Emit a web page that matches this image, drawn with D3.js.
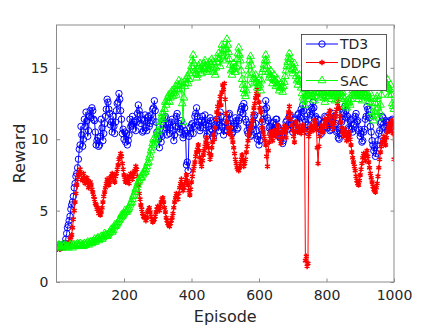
<!DOCTYPE html>
<html>
<head>
<meta charset="utf-8">
<script src="https://cdn.jsdelivr.net/npm/d3@7/dist/d3.min.js"></script>
<style>
  html, body { margin: 0; padding: 0; background: #fff; }
  svg { display: block; font-family: "DejaVu Sans", sans-serif; }
</style>
</head>
<body>
<svg id="chart" width="436" height="327"></svg>
<script>
const seriesNames = ["TD3", "DDPG", "SAC"];
const seriesColors = ["#0000ff", "#ff0000", "#00ff00"];
const episodeStep = 2.5;
const xTicks = [200, 400, 600, 800, 1000];
const yTicks = [0, 5, 10, 15];

const td3 = [
  2.4,2.5, 2.6,2.4, 2.4,2.5, 2.6,2.5, 2.5,2.7, 3.0,3.4, 3.8,4.0, 4.3,4.6, 5.1,5.4, 5.6,6.0,
  6.6,6.9, 7.4,7.6, 8.0,8.6, 9.3,9.6, 10.9,10.3, 9.5,10.0, 11.4,10.9, 11.9,11.3, 10.2,10.6, 11.6,12.0,
  11.5,12.2, 12.0,11.4, 11.3,10.5, 9.6,9.9, 10.1,9.5, 9.6,10.2, 11.4,10.8, 9.9,10.4, 11.1,11.6, 12.1,12.8,
  12.6,12.1, 11.8,11.0, 11.2,10.5, 11.6,10.9, 10.4,11.2, 12.0,12.5, 12.6,13.2, 12.8,12.0, 11.4,10.4, 10.7,10.0,
  10.5,9.8, 10.4,9.6, 9.9,10.3, 11.4,10.9, 11.0,11.6, 10.7,11.2, 11.3,10.6, 11.2,11.8, 12.4,12.0, 11.7,11.1,
  11.4,10.5, 10.6,11.3, 11.7,10.8, 10.6,11.5, 11.6,10.9, 11.1,11.7, 11.3,12.1, 12.2,12.7, 12.0,11.2, 10.5,10.2,
  10.0,9.4, 10.3,9.8, 10.2,10.7, 11.0,11.5, 11.6,10.8, 10.3,11.0, 11.1,10.4, 10.8,11.2, 11.4,10.6, 9.9,10.3,
  10.9,11.6, 11.8,10.9, 11.1,10.5, 10.7,11.3, 10.9,10.1, 10.3,10.6, 10.4,8.2, 8.4,7.8, 10.2,10.8, 10.4,11.0,
  11.1,10.4, 10.9,11.6, 11.8,12.2, 11.6,11.0, 11.2,10.6, 10.8,11.3, 11.6,10.8, 11.2,11.7, 11.0,10.2, 10.4,10.9,
  11.1,11.5, 11.3,10.7, 10.6,10.1, 10.4,10.8, 10.9,11.4, 11.2,10.6, 11.0,11.9, 11.6,10.9, 10.8,10.3, 10.6,11.2,
  11.4,10.6, 11.1,11.7, 11.8,11.1, 10.9,10.4, 10.5,10.9, 11.1,11.5, 11.3,10.7, 10.8,11.3, 11.5,11.9, 12.1,12.3,
  11.8,12.5, 12.2,11.4, 11.2,10.6, 10.4,11.0, 10.8,10.2, 10.3,10.7, 11.0,11.6, 11.7,11.1, 10.6,10.0, 10.2,9.6,
  9.9,10.3, 10.7,11.2, 11.4,11.8, 12.1,12.7, 12.2,11.5, 11.3,10.8, 10.9,10.4, 10.6,11.1, 11.2,10.6, 10.8,11.4,
  11.4,10.9, 10.8,10.2, 10.1,10.6, 10.2,9.7, 9.9,10.4, 10.7,11.2, 11.3,10.7, 11.0,11.6, 11.7,11.0, 11.1,10.5,
  10.8,11.3, 11.4,10.8, 11.1,11.7, 11.8,11.2, 11.5,12.1, 11.9,12.4, 12.0,11.4, 11.2,10.6, 10.5,11.0, 11.4,11.9,
  11.7,12.2, 12.1,12.6, 12.2,11.5, 11.6,10.9, 10.8,11.4, 11.3,10.7, 10.8,10.4, 10.6,11.1, 11.2,11.6, 11.5,10.9,
  10.8,11.3, 11.1,10.6, 10.7,11.2, 11.3,11.8, 11.6,11.0, 11.1,10.5, 10.6,10.1, 10.0,10.4, 10.7,11.2, 11.4,11.9,
  11.8,12.3, 12.0,11.5, 11.6,10.8, 10.7,11.3, 11.4,10.7, 10.5,11.0, 11.1,11.6, 11.8,11.2, 11.3,10.6, 10.7,10.2,
  10.4,9.8, 9.9,10.5, 10.7,11.4, 11.6,12.3, 12.1,11.7, 11.5,10.9, 10.5,9.9, 9.6,9.2, 9.4,8.8, 9.0,9.6,
  9.9,10.4, 10.6,11.1, 11.2,11.6, 11.5,10.8, 10.9,11.3, 11.2,10.6, 10.7,11.2, 11.3,10.8, 10.9,11.4, 11.3,10.7
];

const ddpg = [
  2.3,2.4, 2.4,2.3, 2.5,2.4, 2.4,2.5, 2.5,2.4, 2.5,2.6, 2.6,2.7, 2.8,3.0, 3.1,3.3, 3.8,4.4,
  5.0,5.6, 6.2,6.8, 7.2,7.5, 7.7,7.9, 7.6,7.2, 7.1,7.6, 7.3,6.9, 7.0,7.3, 7.1,6.6, 6.8,7.0,
  6.8,6.5, 6.3,6.0, 5.8,5.5, 5.4,5.1, 5.2,4.8, 5.0,4.7, 4.9,5.2, 5.6,6.0, 6.3,6.6, 6.9,7.2,
  7.1,6.8, 7.0,7.3, 7.4,7.6, 7.5,7.1, 7.0,7.4, 7.6,7.9, 8.2,8.6, 8.7,9.0, 8.8,8.3, 7.9,7.5,
  7.2,7.0, 7.1,7.4, 7.2,6.9, 7.3,7.6, 7.5,7.2, 7.4,7.7, 7.8,8.1, 7.9,7.4, 6.8,6.2, 5.8,5.4,
  5.1,4.8, 4.6,4.5, 4.6,4.3, 4.5,4.9, 5.0,5.2, 4.9,4.6, 4.4,4.2, 4.3,4.4, 4.6,4.9, 5.1,5.3,
  5.2,5.0, 5.3,5.6, 5.8,5.9, 5.6,5.2, 4.9,4.5, 4.3,4.1, 4.0,3.9, 4.1,4.3, 4.5,4.8, 5.2,5.6,
  5.9,6.2, 6.0,5.8, 6.2,6.6, 6.9,7.2, 6.8,6.4, 6.6,6.9, 7.2,7.5, 7.1,6.8, 6.4,6.1, 6.5,7.0,
  7.4,7.8, 8.1,8.4, 8.8,9.1, 9.3,9.6, 9.2,8.7, 8.4,8.1, 8.5,8.9, 9.2,9.5, 9.8,10.1, 9.7,9.4,
  9.0,8.6, 8.9,9.4, 9.8,10.3, 10.0,10.8, 11.4,11.9, 12.3,11.8, 12.6,13.0, 12.4,13.3, 13.8,13.5, 13.9,12.8,
  11.8,11.2, 10.8,10.4, 10.6,10.8, 10.4,10.1, 9.8,9.4, 9.0,8.6, 8.3,8.0, 7.9,7.8, 8.0,8.3, 8.6,8.9,
  8.5,8.1, 8.3,8.6, 9.1,9.5, 9.9,10.3, 10.6,10.8, 11.0,11.3, 11.8,12.2, 12.5,12.9, 13.2,13.5, 13.1,12.6,
  12.2,11.9, 11.3,10.8, 10.5,10.2, 9.9,9.6, 8.8,8.1, 9.2,9.8, 10.2,10.5, 10.2,9.9, 10.3,10.6, 10.4,10.2,
  10.6,11.0, 10.7,10.4, 10.0,9.7, 10.1,10.5, 10.7,10.9, 10.5,10.1, 10.8,11.5, 11.9,12.3, 11.8,11.4, 11.0,10.6,
  10.2,9.8, 10.5,11.2, 10.9,10.5, 10.7,10.9, 10.6,10.4, 10.7,11.0, 10.8,10.6, 1.5,1.8, 1.1,1.3, 10.2,10.5,
  10.8,11.0, 10.8,10.6, 10.9,11.3, 11.1,10.8, 9.4,8.3, 9.5,10.2, 10.6,11.0, 10.7,10.5, 10.9,11.4, 11.2,10.9,
  11.3,11.6, 11.8,12.0, 11.6,11.2, 10.9,10.7, 11.1,11.5, 11.8,12.1, 12.5,12.8, 12.2,11.6, 11.2,10.8, 10.5,10.2,
  10.4,10.7, 10.3,9.9, 10.2,10.5, 10.3,10.0, 9.6,9.1, 8.7,8.4, 8.1,7.8, 7.4,7.1, 6.9,6.8, 7.1,7.5,
  7.9,8.3, 8.7,9.0, 8.8,8.5, 8.9,9.2, 8.8,8.4, 8.0,7.6, 7.3,7.0, 6.7,6.5, 6.4,6.3, 6.6,6.9,
  7.4,8.0, 8.6,9.1, 9.5,9.8, 10.0,10.2, 9.9,9.6, 10.1,10.5, 10.8,11.1, 10.9,10.6, 11.0,11.3, 10.4,8.6
];

const sac = [
  2.4,2.5, 2.6,2.5, 2.5,2.4, 2.6,2.5, 2.5,2.6, 2.4,2.5, 2.5,2.4, 2.5,2.6, 2.6,2.5, 2.4,2.6,
  2.6,2.5, 2.5,2.6, 2.7,2.5, 2.6,2.7, 2.5,2.6, 2.6,2.5, 2.7,2.6, 2.6,2.7, 2.8,2.6, 2.7,2.8,
  2.8,2.7, 2.8,2.9, 3.0,2.8, 2.9,3.0, 3.1,2.9, 3.0,3.1, 3.2,3.0, 3.1,3.2, 3.4,3.3, 3.3,3.2,
  3.3,3.4, 3.5,3.6, 3.7,3.5, 3.6,3.8, 4.0,3.9, 4.0,4.1, 4.2,4.3, 4.4,4.5, 4.7,4.6, 4.7,4.8,
  5.0,4.9, 4.9,5.0, 5.1,5.2, 5.4,5.5, 5.6,5.8, 6.0,6.1, 6.3,6.5, 6.6,6.8, 7.0,7.1, 7.3,7.3,
  7.3,7.5, 7.6,7.8, 7.7,7.9, 8.1,8.3, 8.4,8.7, 8.9,9.2, 9.4,9.7, 10.0,9.6, 9.9,10.3, 10.1,10.5,
  10.6,10.9, 11.2,11.5, 11.8,11.4, 11.8,12.1, 12.6,12.4, 12.6,12.9, 13.1,12.6, 12.9,13.2, 13.4,13.0, 13.2,13.5,
  13.7,13.1, 13.5,13.8, 14.1,13.4, 13.8,14.0, 12.5,11.2, 12.9,13.7, 13.9,14.2, 14.4,13.9, 14.2,14.6, 14.8,15.1,
  15.5,15.9, 15.3,14.8, 14.6,14.3, 14.5,14.9, 15.1,15.3, 14.9,14.6, 14.8,15.0, 15.3,15.5, 15.1,14.7, 14.9,15.2,
  15.4,14.8, 15.2,15.6, 15.4,15.0, 14.7,14.5, 15.0,15.4, 15.7,16.0, 15.6,15.1, 15.9,16.6, 16.4,16.2, 15.8,15.5,
  16.3,17.0, 16.6,16.1, 15.6,15.2, 14.8,14.5, 14.9,15.3, 15.0,14.7, 15.1,15.6, 16.0,16.4, 15.9,15.5, 14.8,14.2,
  13.8,13.5, 13.2,13.0, 13.4,13.8, 14.5,15.1, 15.5,15.8, 15.2,14.6, 14.2,13.9, 14.2,14.5, 14.0,13.6, 13.9,14.2,
  13.8,13.4, 14.1,14.7, 14.9,15.2, 15.5,15.9, 15.5,15.1, 14.7,14.3, 14.5,14.8, 14.3,13.9, 14.2,14.5, 14.1,13.7,
  13.9,14.2, 13.8,13.4, 13.6,13.9, 13.6,13.3, 13.7,14.0, 14.4,14.8, 15.1,15.4, 15.7,16.0, 15.6,15.2, 14.9,14.6,
  15.0,15.3, 14.8,14.4, 14.1,13.8, 14.2,14.5, 14.0,13.6, 13.2,12.9, 12.7,12.4, 13.0,13.5, 13.1,12.8, 13.1,13.4,
  13.2,13.0, 13.4,13.7, 13.2,12.7, 13.0,13.3, 13.6,13.8, 13.3,12.9, 13.2,13.5, 13.3,13.1, 12.9,12.6, 13.0,13.4,
  13.2,13.0, 13.3,13.6, 13.2,12.8, 13.0,13.3, 13.0,12.7, 13.1,13.5, 13.3,13.2, 13.0,12.9, 13.2,13.6, 13.3,13.0,
  12.8,12.5, 12.3,12.2, 12.5,12.8, 12.6,12.4, 12.8,13.1, 13.4,13.7, 13.3,13.0, 13.2,13.4, 13.1,12.8, 13.0,13.2,
  13.0,12.7, 13.1,13.5, 13.2,13.0, 13.1,13.3, 12.9,12.6, 12.9,13.2, 12.5,11.9, 11.6,11.3, 11.9,12.5, 12.8,13.0,
  12.2,11.5, 11.9,12.4, 13.1,13.8, 14.2,14.5, 14.0,13.6, 13.9,14.2, 13.6,13.1, 13.5,13.8, 13.1,12.5, 12.3,12.1
];

const seriesValues = [td3, ddpg, sac];

// ---- layout ----
const svg = d3.select("#chart");
const W = 436, H = 327;
const plot = { left: 56.5, right: 394, top: 25, bottom: 282 };
const axisColor = "#8a8a8a";
const textColor = "#262626";

const x = d3.scaleLinear().domain([0, 1000]).range([plot.left, plot.right]);
const y = d3.scaleLinear().domain([0, 18]).range([plot.bottom, plot.top]);

svg.append("rect").attr("width", W).attr("height", H).attr("fill", "#fff");

svg.append("defs").append("clipPath").attr("id", "plotclip")
  .append("rect")
  .attr("x", plot.left).attr("y", plot.top)
  .attr("width", plot.right - plot.left).attr("height", plot.bottom - plot.top);

// ---- series ----
const symbolTypes = [d3.symbolCircle, d3.symbolAsterisk, d3.symbolTriangle];
const symbolSizes = [32, 22, 26];
const symbolStroke = [1, 1.5, 1];

const gData = svg.append("g").attr("clip-path", "url(#plotclip)");
const line = d3.line()
  .x((d, i) => x((i + 1) * episodeStep))
  .y(d => y(d));

seriesValues.forEach((vals, si) => {
  const g = gData.append("g");
  g.append("path")
    .datum(vals)
    .attr("d", line)
    .attr("fill", "none")
    .attr("stroke", seriesColors[si])
    .attr("stroke-width", 1);
  const sym = d3.symbol().type(symbolTypes[si]).size(symbolSizes[si]);
  g.selectAll("path.m")
    .data(vals)
    .join("path")
    .attr("class", "m")
    .attr("d", sym)
    .attr("transform", (d, i) => `translate(${x((i + 1) * episodeStep)},${y(d)})`)
    .attr("fill", "none")
    .attr("stroke", seriesColors[si])
    .attr("stroke-width", symbolStroke[si]);
});

// ---- axes (box with inward ticks, mirrored) ----
const tickLen = 3.5;
const gAx = svg.append("g");
gAx.append("rect")
  .attr("x", plot.left).attr("y", plot.top)
  .attr("width", plot.right - plot.left).attr("height", plot.bottom - plot.top)
  .attr("fill", "none").attr("stroke", axisColor).attr("stroke-width", 1);

const xAxisB = d3.axisBottom(x).tickValues(xTicks).tickSize(-tickLen).tickPadding(8).tickFormat(d3.format("d"));
const xAxisT = d3.axisTop(x).tickValues(xTicks).tickSize(-tickLen).tickFormat("");
const yAxisL = d3.axisLeft(y).tickValues(yTicks).tickSize(-tickLen).tickPadding(8).tickFormat(d3.format("d"));
const yAxisR = d3.axisRight(y).tickValues(yTicks).tickSize(-tickLen).tickFormat("");

function styleAxis(g) {
  g.select(".domain").remove();
  g.selectAll(".tick line").attr("stroke", axisColor);
  g.selectAll(".tick text")
    .attr("fill", textColor)
    .style("font-family", "DejaVu Sans, sans-serif")
    .style("font-size", "14px");
}
gAx.append("g").attr("transform", `translate(0,${plot.bottom})`).call(xAxisB).call(styleAxis);
gAx.append("g").attr("transform", `translate(0,${plot.top})`).call(xAxisT).call(styleAxis);
gAx.append("g").attr("transform", `translate(${plot.left},0)`).call(yAxisL).call(styleAxis);
gAx.append("g").attr("transform", `translate(${plot.right},0)`).call(yAxisR).call(styleAxis);

// axis labels
svg.append("text")
  .attr("x", (plot.left + plot.right) / 2).attr("y", 322)
  .attr("text-anchor", "middle")
  .attr("fill", textColor)
  .style("font-size", "16px")
  .text("Episode");
svg.append("text")
  .attr("transform", `translate(25,${(plot.top + plot.bottom) / 2}) rotate(-90)`)
  .attr("text-anchor", "middle")
  .attr("fill", textColor)
  .style("font-size", "16px")
  .text("Reward");

// ---- legend ----
const leg = svg.append("g");
const legBox = { x: 301.5, y: 34.5, w: 85, h: 56 };
leg.append("rect")
  .attr("x", legBox.x).attr("y", legBox.y)
  .attr("width", legBox.w).attr("height", legBox.h)
  .attr("fill", "#fff").attr("stroke", "#333").attr("stroke-width", 0.8);
const rowY = [44, 62.5, 80.5];
seriesNames.forEach((name, si) => {
  const ry = rowY[si];
  leg.append("line")
    .attr("x1", 306).attr("x2", 338).attr("y1", ry).attr("y2", ry)
    .attr("stroke", seriesColors[si]).attr("stroke-width", 1);
  leg.append("path")
    .attr("d", d3.symbol().type(symbolTypes[si]).size(symbolSizes[si])())
    .attr("transform", `translate(322,${ry})`)
    .attr("fill", "none")
    .attr("stroke", seriesColors[si])
    .attr("stroke-width", symbolStroke[si]);
  leg.append("text")
    .attr("x", 340).attr("y", ry + 5)
    .attr("fill", textColor)
    .style("font-size", "14px")
    .text(name);
});
</script>
</body>
</html>
